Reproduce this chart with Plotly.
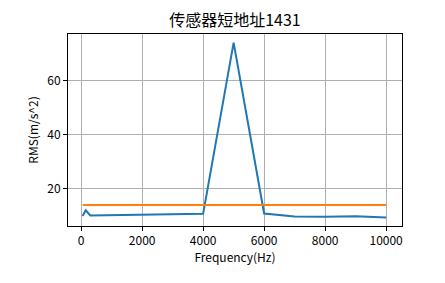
import plotly.graph_objects as go

freq = [50, 150, 300, 1000, 2000, 3000, 4000, 5000, 6000, 7000, 8000, 9000, 10000]
rms = [9.9, 12.0, 10.1, 10.2, 10.4, 10.5, 10.7, 73.9, 10.8, 9.7, 9.6, 9.8, 9.3]
threshold_x = [50, 10000]
threshold_y = [14.0, 14.0]

x_ticks = [0, 2000, 4000, 6000, 8000, 10000]
x_ticklabels = ["0", "2000", "4000", "6000", "8000", "10000"]
y_ticks = [20, 40, 60]

title = "传感器短地址1431"
xlabel = "Frequency(Hz)"
ylabel = "RMS(m/s^2)"

font = "Noto Sans CJK SC, DejaVu Sans, sans-serif"

fig = go.Figure()
fig.add_trace(go.Scatter(x=freq, y=rms, mode="lines",
                         line=dict(color="#1f77b4", width=2), showlegend=False))
fig.add_trace(go.Scatter(x=threshold_x, y=threshold_y, mode="lines",
                         line=dict(color="#ff7f0e", width=2), showlegend=False))

axis_common = dict(showgrid=True, gridcolor="#b0b0b0", gridwidth=0.8,
                   showline=True, linecolor="black", linewidth=1, mirror=True,
                   ticks="outside", ticklen=4, tickcolor="black", tickwidth=1,
                   zeroline=False, tickfont=dict(family=font, size=12, color="black"))

fig.update_layout(
    width=445, height=283,
    margin=dict(l=68, r=43, t=34, b=57),
    paper_bgcolor="white", plot_bgcolor="white",
    title=dict(text=title, x=0.5, xref="paper", xanchor="center",
               y=1 - 20 / 283, yref="container", yanchor="middle",
               font=dict(family=font, size=16, color="black")),
    xaxis=dict(range=[-430, 10520], tickvals=x_ticks, ticktext=x_ticklabels,
               title=dict(text=xlabel, font=dict(family=font, size=12, color="black"), standoff=6),
               **axis_common),
    yaxis=dict(range=[6.2, 77.1], tickvals=y_ticks,
               title=dict(text=ylabel, font=dict(family=font, size=12, color="black"), standoff=6),
               **axis_common),
)

fig.write_html("out.html")
